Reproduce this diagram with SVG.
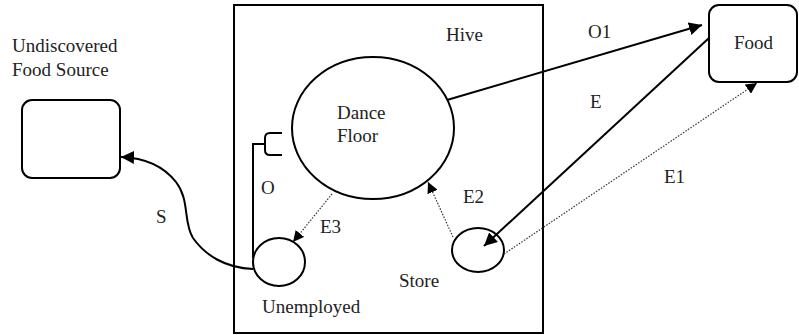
<svg xmlns="http://www.w3.org/2000/svg" width="799" height="335" viewBox="0 0 799 335">
<defs>
<style>
.s{fill:none;stroke:#000;stroke-width:2}
.d{fill:none;stroke:#333;stroke-width:1.2;stroke-dasharray:1.5 1.5}
.t{font-family:'Liberation Serif','Times New Roman','DejaVu Serif',serif;font-size:19px;fill:#222}
</style>
<marker id="a" viewBox="0 0 10 10" refX="10" refY="5" markerWidth="11" markerHeight="11" markerUnits="userSpaceOnUse" orient="auto">
<path d="M0,0 L10,5 L0,10 Z" fill="#000"/>
</marker>
<marker id="b" viewBox="0 0 10 10" refX="10" refY="5" markerWidth="13" markerHeight="13" markerUnits="userSpaceOnUse" orient="auto">
<path d="M0,0 L10,5 L0,10 Z" fill="#000"/>
</marker>
</defs>
<rect width="799" height="335" fill="#fff"/>
<g id="hive">
<rect class="s" x="234" y="5" width="309" height="328"/>
<text class="t" font-family="Liberation Serif, serif" x="446" y="41">Hive</text>
</g>
<g id="undiscovered">
<rect class="s" x="22" y="100" width="98" height="78" rx="10"/>
<text class="t" font-family="Liberation Serif, serif" x="12" y="52">Undiscovered</text>
<text class="t" font-family="Liberation Serif, serif" x="12" y="76">Food Source</text>
</g>
<g id="food">
<rect class="s" x="709" y="5" width="88" height="77" rx="10"/>
<text class="t" font-family="Liberation Serif, serif" x="734" y="49">Food</text>
</g>
<g id="dancefloor">
<ellipse class="s" cx="373" cy="128" rx="81" ry="71"/>
<text class="t" font-family="Liberation Serif, serif" x="337" y="119">Dance</text>
<text class="t" font-family="Liberation Serif, serif" x="337" y="142">Floor</text>
</g>
<g id="unemployed">
<ellipse class="s" cx="279" cy="262" rx="26" ry="24"/>
<text class="t" font-family="Liberation Serif, serif" x="262" y="313">Unemployed</text>
</g>
<g id="store">
<ellipse class="s" cx="478" cy="250" rx="26" ry="22"/>
<text class="t" font-family="Liberation Serif, serif" x="399" y="287">Store</text>
</g>
<g id="connectors">
<path class="s" d="M253,269 C225,268 205,255 193,238 C183,222 190,200 176,182 C165,168 148,158 121,157" marker-end="url(#b)"/>
<path class="s" d="M253,258 V144 H265 M282,133 H270 Q265,133 265,138 V150 Q265,155 270,155 H282"/>
<path class="d" d="M332,194 L293,242" marker-end="url(#a)"/>
<path class="d" d="M453,237 L428,182" marker-end="url(#a)"/>
<path class="s" d="M447,100 L702,25" marker-end="url(#b)"/>
<path class="s" d="M709,38 L484,246" marker-end="url(#b)"/>
<path class="d" d="M504,254 L757,83" marker-end="url(#a)"/>
<text class="t" font-family="Liberation Serif, serif" x="588" y="38">O1</text>
<text class="t" font-family="Liberation Serif, serif" x="590" y="108">E</text>
<text class="t" font-family="Liberation Serif, serif" x="664" y="183">E1</text>
<text class="t" font-family="Liberation Serif, serif" x="463" y="203">E2</text>
<text class="t" font-family="Liberation Serif, serif" x="320" y="233">E3</text>
<text class="t" font-family="Liberation Serif, serif" x="261" y="194">O</text>
<text class="t" font-family="Liberation Serif, serif" x="156" y="223">S</text>
</g>
</svg>
